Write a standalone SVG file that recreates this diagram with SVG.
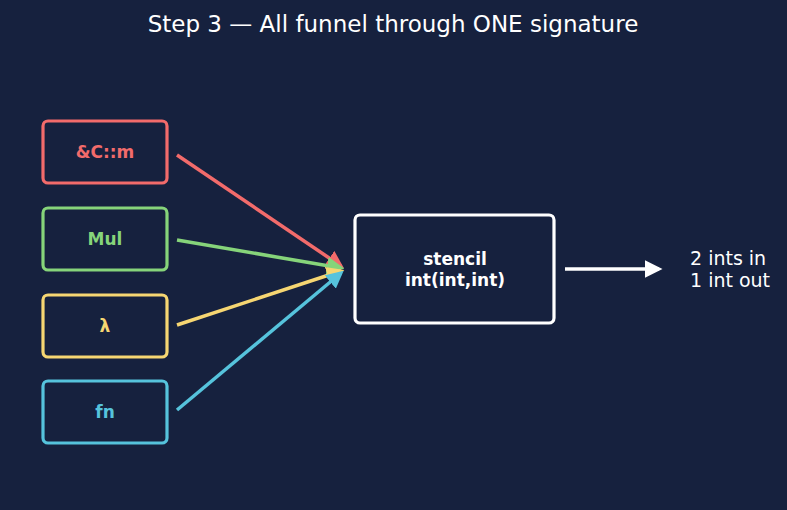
<svg xmlns="http://www.w3.org/2000/svg" width="787" height="510" viewBox="0 0 787 510">
<defs>
<style>
text{font-family:"DejaVu Sans","Liberation Sans",sans-serif}
.box{fill:#16213e;stroke-width:3.2}
.lbl{font-size:17px;font-weight:bold;text-anchor:middle}
.conn{stroke-width:3.5;fill:none}
</style>
<marker id="mr" viewBox="0 0 10 10" refX="8" refY="5" markerWidth="5" markerHeight="5" markerUnits="strokeWidth" orient="auto"><path d="M0,0L10,5L0,10z" fill="#f26b6b"/></marker>
<marker id="mg" viewBox="0 0 10 10" refX="8" refY="5" markerWidth="5" markerHeight="5" markerUnits="strokeWidth" orient="auto"><path d="M0,0L10,5L0,10z" fill="#86d47a"/></marker>
<marker id="my" viewBox="0 0 10 10" refX="8" refY="5" markerWidth="5" markerHeight="5" markerUnits="strokeWidth" orient="auto"><path d="M0,0L10,5L0,10z" fill="#f6d672"/></marker>
<marker id="mb" viewBox="0 0 10 10" refX="8" refY="5" markerWidth="5" markerHeight="5" markerUnits="strokeWidth" orient="auto"><path d="M0,0L10,5L0,10z" fill="#56c3dc"/></marker>
<marker id="mw" viewBox="0 0 10 10" refX="8" refY="5" markerWidth="5" markerHeight="5" markerUnits="strokeWidth" orient="auto"><path d="M0,0L10,5L0,10z" fill="#ffffff"/></marker>
</defs>
<rect width="787" height="510" fill="#16213e"/>
<text x="393" y="32" font-size="23" fill="#ffffff" text-anchor="middle">Step 3 — All funnel through ONE signature</text>
<g id="connectors">
<line class="conn" x1="177" y1="155" x2="341" y2="266" stroke="#f26b6b" marker-end="url(#mr)"/>
<line class="conn" x1="177" y1="240" x2="341" y2="268" stroke="#86d47a" marker-end="url(#mg)"/>
<line class="conn" x1="177" y1="325" x2="341" y2="271" stroke="#f6d672" marker-end="url(#my)"/>
<line class="conn" x1="177" y1="410" x2="341" y2="273" stroke="#56c3dc" marker-end="url(#mb)"/>
<line class="conn" x1="565" y1="269" x2="659" y2="269" stroke="#ffffff" marker-end="url(#mw)"/>
</g>
<g id="n-cm"><rect class="box" x="43" y="121" width="124" height="62" rx="5" stroke="#f26b6b"/><text class="lbl" x="105" y="158" fill="#f26b6b">&amp;C::m</text></g>
<g id="n-mul"><rect class="box" x="43" y="208" width="124" height="62" rx="5" stroke="#86d47a"/><text class="lbl" x="105" y="245" fill="#86d47a">Mul</text></g>
<g id="n-lambda"><rect class="box" x="43" y="295" width="124" height="62" rx="5" stroke="#f6d672"/><text class="lbl" x="105" y="332" fill="#f6d672">λ</text></g>
<g id="n-fn"><rect class="box" x="43" y="381" width="124" height="62" rx="5" stroke="#56c3dc"/><text class="lbl" x="105" y="418" fill="#56c3dc">fn</text></g>
<g id="n-stencil"><rect class="box" x="355" y="215" width="199" height="108" rx="5" stroke="#ffffff"/><text class="lbl" x="455" y="265" fill="#ffffff">stencil</text><text class="lbl" x="455" y="286" fill="#ffffff">int(int,int)</text></g>
<g id="n-out"><text x="690" y="265" font-size="19" fill="#ffffff">2 ints in</text><text x="690" y="287" font-size="19" fill="#ffffff">1 int out</text></g>
</svg>
